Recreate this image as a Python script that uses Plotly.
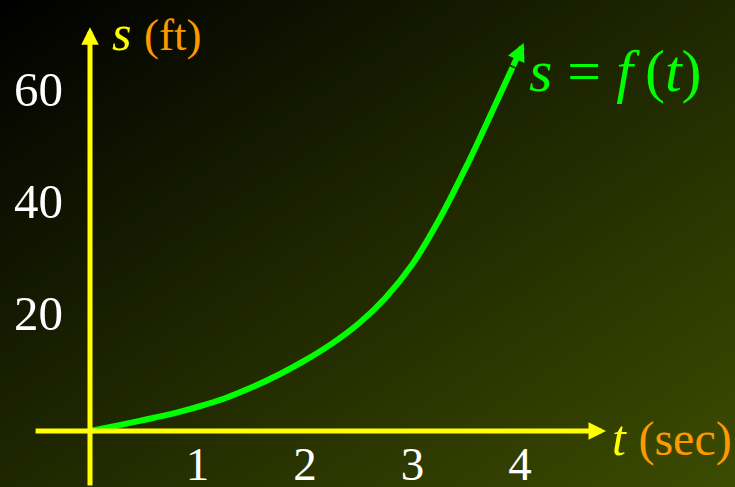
import base64
import plotly.graph_objects as go

# Position s (ft) against time t (sec); last two points form the arrow tip
t_sec = [0, 0.25, 0.5, 0.75, 1.0, 1.25, 1.5, 1.75, 2.0, 2.25, 2.5, 2.75,
         3.0, 3.25, 3.5, 3.75, 3.93, 4.035]
s_ft = [0, 0.96, 1.97, 3.0, 4.3, 5.8, 7.75, 10.0, 12.6, 15.6, 19.2, 23.8,
        29.8, 37.8, 47.2, 57.4, 64.9, 69.3]

x_ticks = [1, 2, 3, 4]
x_tick_labels = ["1", "2", "3", "4"]
y_ticks = [20, 40, 60]
y_tick_labels = ["20", "40", "60"]

W, H = 735, 487
X_RANGE = [-0.8372, 6.0]
Y_RANGE = [-10.0, 76.96]

YELLOW = "#FFFF00"
ORANGE = "#FF9900"
GREEN = "#00FF00"
SERIF = "Liberation Serif, Times New Roman, serif"

# Diagonal dark-to-olive backdrop
svg = (
    f'<svg xmlns="http://www.w3.org/2000/svg" width="{W}" height="{H}">'
    '<defs><linearGradient id="g" x1="0" y1="0" x2="1" y2="1">'
    '<stop offset="0" stop-color="#000000"/>'
    '<stop offset="0.5" stop-color="#1f2700"/>'
    '<stop offset="1" stop-color="#3c4c00"/>'
    '</linearGradient></defs>'
    f'<rect width="{W}" height="{H}" fill="url(#g)"/></svg>'
)
bg_src = "data:image/svg+xml;base64," + base64.b64encode(svg.encode()).decode()

fig = go.Figure()

fig.add_trace(go.Scatter(
    x=t_sec[:-1], y=s_ft[:-1], mode="lines",
    line=dict(color=GREEN, width=6, shape="spline"),
    hoverinfo="skip", showlegend=False,
))

annotations = [
    # vertical axis with arrow
    dict(x=0, y=72.1, ax=0, ay=Y_RANGE[0], xref="x", yref="y", axref="x", ayref="y",
         text="", showarrow=True, arrowhead=2, arrowsize=0.7, arrowwidth=5,
         arrowcolor=YELLOW, standoff=0),
    # horizontal axis with arrow
    dict(x=4.8, y=0, ax=-0.52, ay=0, xref="x", yref="y", axref="x", ayref="y",
         text="", showarrow=True, arrowhead=2, arrowsize=0.7, arrowwidth=5,
         arrowcolor=YELLOW, standoff=0),
    # arrow tip of the curve
    dict(x=t_sec[-1], y=s_ft[-1], ax=t_sec[-2], ay=s_ft[-2], xref="x", yref="y",
         axref="x", ayref="y", text="", showarrow=True, arrowhead=2,
         arrowsize=0.6, arrowwidth=6, arrowcolor=GREEN, standoff=0),
    # axis titles
    dict(x=110 / W, y=1 - 33 / H, xref="paper", yref="paper", xanchor="left",
         yanchor="middle", showarrow=False,
         text=f"<i>s</i> <span style='color:{ORANGE};font-size:45px'>(ft)</span>",
         font=dict(family=SERIF, size=50, color=YELLOW)),
    dict(x=610 / W, y=1 - 438 / H, xref="paper", yref="paper", xanchor="left",
         yanchor="middle", showarrow=False,
         text=f"<i>t</i> <span style='color:{ORANGE};font-size:48px'>(sec)</span>",
         font=dict(family=SERIF, size=50, color=YELLOW)),
    # curve label
    dict(x=615 / W, y=1 - 71 / H, xref="paper", yref="paper", xanchor="center",
         yanchor="middle", showarrow=False,
         text="<i>s</i> = <i>f</i>\u2009(<i>t</i>)",
         font=dict(family=SERIF, size=60, color=GREEN)),
]

fig.update_layout(
    width=W, height=H,
    margin=dict(l=0, r=0, t=0, b=0, pad=0, autoexpand=False),
    paper_bgcolor="#000000",
    plot_bgcolor="rgba(0,0,0,0)",
    images=[dict(source=bg_src, xref="paper", yref="paper", x=0, y=1,
                 sizex=1, sizey=1, sizing="stretch", layer="below")],
    annotations=annotations,
    xaxis=dict(range=X_RANGE, anchor="free", position=(H - 431) / H,
               tickvals=x_ticks, ticktext=x_tick_labels, ticks="",
               showgrid=False, zeroline=False, showline=False,
               automargin=False, ticklabelstandoff=1,
               tickfont=dict(family=SERIF, size=47, color="white"),
               fixedrange=True),
    yaxis=dict(range=Y_RANGE, anchor="free", position=90 / W,
               tickvals=y_ticks, ticktext=y_tick_labels, ticks="",
               showgrid=False, zeroline=False, showline=False,
               automargin=False, ticklabelstandoff=27, ticklabelshift=-6,
               tickfont=dict(family=SERIF, size=49, color="white"),
               fixedrange=True),
    showlegend=False,
)

fig.write_html("out.html")
